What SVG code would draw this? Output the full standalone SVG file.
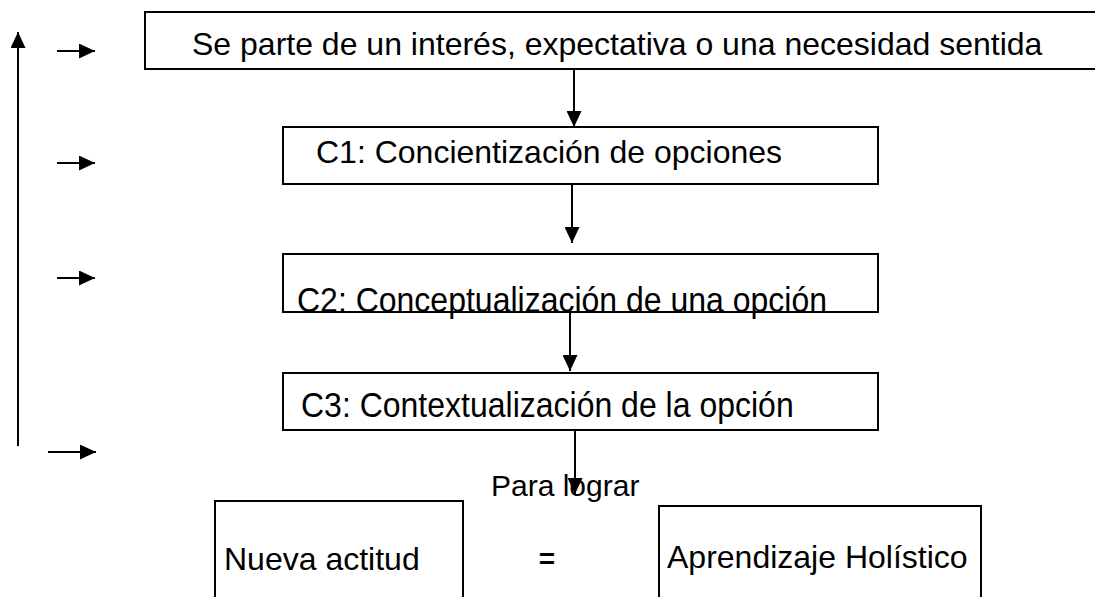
<svg xmlns="http://www.w3.org/2000/svg" width="1095" height="597" viewBox="0 0 1095 597">
<defs>
<marker id="ah" markerWidth="16" markerHeight="15" refX="16" refY="7.5" orient="auto" markerUnits="userSpaceOnUse" viewBox="0 0 16 15">
<path d="M0,0 L16,7.5 L0,15 Z" fill="#000"/>
</marker>
<style>
.box{fill:#fff;stroke:#000;stroke-width:2}
.t{font-family:"Liberation Sans",Arial,sans-serif;font-size:32px;fill:#000}
.c{stroke:#000;stroke-width:2;fill:none}
</style>
</defs>
<rect width="1095" height="597" fill="#fff"/>
<g id="n-top"><rect class="box" x="145" y="12" width="960" height="57"/><text class="t" x="192" y="55">Se parte de un interés, expectativa o una necesidad sentida</text></g>
<g id="n-c1"><rect class="box" x="283" y="127" width="595" height="57"/><text class="t" x="316" y="163">C1: Concientización de opciones</text></g>
<g id="n-c2"><rect class="box" x="283" y="254" width="595" height="58"/><text class="t" transform="translate(297,312) scale(1,1.12)" x="0" y="0">C2: Conceptualización de una opción</text></g>
<g id="n-c3"><rect class="box" x="283" y="373" width="595" height="57"/><text class="t" transform="translate(301,417) scale(1,1.12)" x="0" y="0">C3: Contextualización de la opción</text></g>
<g id="n-para"><text class="t" style="font-size:30px" x="491" y="496">Para lograr</text></g>
<g id="n-nueva"><rect class="box" x="215" y="501" width="248" height="110"/><text class="t" x="224" y="570">Nueva actitud</text></g>
<g id="n-eq"><text class="t" style="font-weight:bold;font-size:28px" x="547" y="568" text-anchor="middle">=</text></g>
<g id="n-apr"><rect class="box" x="659" y="506" width="322" height="110"/><text class="t" x="667" y="568">Aprendizaje Holístico</text></g>
<g id="connectors">
<line class="c" x1="18" y1="446" x2="18" y2="32" marker-end="url(#ah)"/>
<line class="c" x1="57" y1="51" x2="95" y2="51" marker-end="url(#ah)"/>
<line class="c" x1="57" y1="163" x2="95" y2="163" marker-end="url(#ah)"/>
<line class="c" x1="57" y1="278" x2="95" y2="278" marker-end="url(#ah)"/>
<line class="c" x1="48" y1="452" x2="96" y2="452" marker-end="url(#ah)"/>
<line class="c" x1="574" y1="69" x2="574" y2="127" marker-end="url(#ah)"/>
<line class="c" x1="572" y1="184" x2="572" y2="243" marker-end="url(#ah)"/>
<line class="c" x1="570" y1="312" x2="570" y2="371" marker-end="url(#ah)"/>
<line class="c" x1="575" y1="430" x2="575" y2="494" marker-end="url(#ah)"/>
</g>
</svg>
